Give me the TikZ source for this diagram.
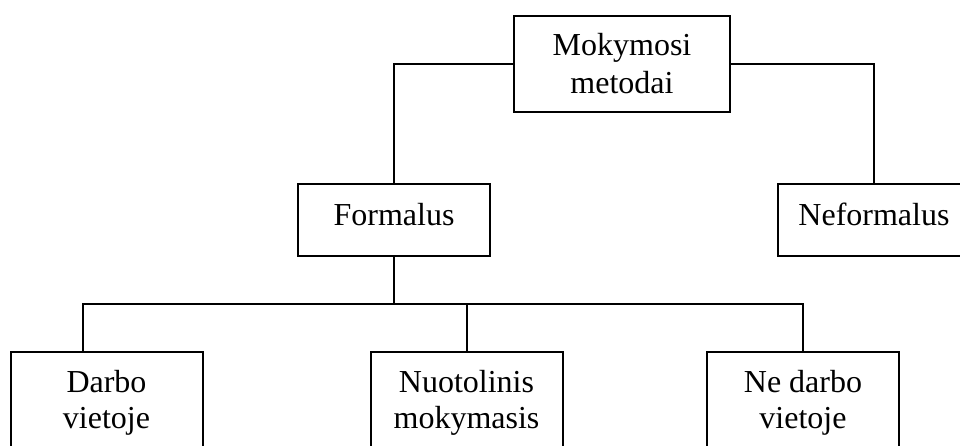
\documentclass[tikz,border=0pt]{standalone}
\usepackage{fontspec}
\setmainfont{Liberation Serif}
\usetikzlibrary{calc}
\begin{document}
\begin{tikzpicture}[x=0.75pt,y=-0.75pt,
  box/.style={draw,line width=1.5pt,inner sep=0pt,outer sep=0pt},
  lbl/.style={font=\fontsize{24}{28}\selectfont,anchor=base,inner sep=0pt},
  conn/.style={line width=1.5pt}]
\useasboundingbox (0,0) rectangle (960,446);
\clip (0,0) rectangle (960,446);
% boxes
\node[box,minimum width=162pt,minimum height=72pt] (top) at (622,64) {};
\node[box,minimum width=144pt,minimum height=54pt] (form) at (394,220) {};
\node[box,minimum width=144pt,minimum height=54pt] (nef) at (874,220) {};
\node[box,minimum width=144pt,minimum height=111pt] (darbo) at (106.5,426) {};
\node[box,minimum width=144pt,minimum height=111pt] (nuo) at (466.5,426) {};
\node[box,minimum width=144pt,minimum height=111pt] (ne) at (803,426) {};
% texts
\node[lbl] (t1a) at (622,55) {Mokymosi};
\node[lbl] (t1b) at (622,93) {metodai};
\node[lbl] (t2) at (394,225) {Formalus};
\node[lbl] (t3) at (874,225) {Neformalus};
\node[lbl] (t4a) at (106.5,392) {Darbo};
\node[lbl] (t4b) at (106.5,428) {vietoje};
\node[lbl] (t5a) at (466.5,392) {Nuotolinis};
\node[lbl] (t5b) at (466.5,428) {mokymasis};
\node[lbl] (t6a) at (803,392) {Ne darbo};
\node[lbl] (t6b) at (803,428) {vietoje};
% connectors
\draw[conn] (top.west) -| (form.north);
\draw[conn] (top.east) -| (nef.north);
\coordinate (bus) at (394,304);
\draw[conn] (form.south) -- (bus);
\draw[conn] (bus) -| ($(darbo.north west)+(72,0)$);
\draw[conn] (bus) -| (nuo.north);
\draw[conn] (bus) -| (ne.north);
\end{tikzpicture}
\end{document}
